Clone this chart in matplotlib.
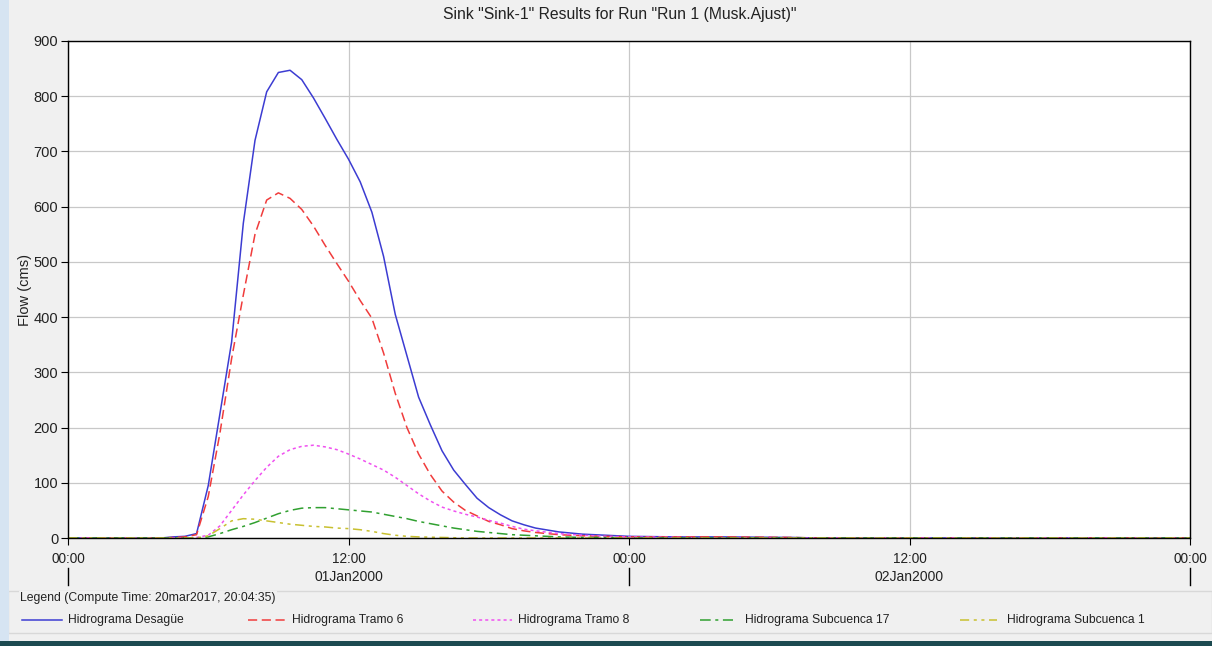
import numpy as np
import matplotlib.pyplot as plt
from matplotlib.lines import Line2D
from matplotlib.patches import Rectangle

# hours since 00:00 01Jan2000
hours = [0, 4.0, 4.5, 5.0, 5.5, 6.0, 6.5, 7.0, 7.5, 8.0, 8.5, 9.0, 9.5, 10.0,
         10.5, 11.0, 11.5, 12.0, 12.5, 13.0, 13.5, 14.0, 14.5, 15.0, 15.5, 16.0,
         16.5, 17.0, 17.5, 18.0, 18.5, 19.0, 19.5, 20.0, 21, 22, 23, 24, 26, 28,
         31, 32, 48]

# flows (cms)
desague = [0, 0, 2, 3, 8, 95, 225, 355, 570, 720, 808, 843, 847, 830,
           797, 760, 722, 686, 645, 590, 510, 405, 330, 255, 205, 158,
           123, 97, 72, 55, 42, 31, 24, 18, 11, 7, 5, 3, 2, 2,
           1, 0, 0]
tramo6 = [0, 0, 1, 2, 6, 75, 190, 325, 440, 550, 612, 625, 615, 595,
          565, 530, 497, 465, 430, 398, 335, 262, 200, 152, 115, 85,
          65, 50, 40, 30, 24, 17, 13, 10, 6, 4, 3, 2, 2, 2,
          1, 0, 0]
tramo8 = [0, 0, 0, 0, 1, 5, 22, 50, 78, 104, 128, 148, 160, 166,
          168, 165, 160, 152, 143, 133, 123, 110, 95, 80, 67, 56,
          49, 43, 38, 32, 27, 21, 16, 13, 8, 5, 3, 2, 1, 0,
          0, 0, 0]
subc17 = [0, 0, 0, 0, 0, 2, 8, 15, 21, 28, 36, 44, 50, 54,
          55, 55, 53, 51, 49, 47, 43, 39, 35, 30, 26, 22,
          18, 15, 12, 10, 8, 6, 5, 4, 2, 1, 1, 0, 0, 0,
          0, 0, 0]
subc1 = [0, 0, 0, 0, 0, 4, 17, 31, 35, 34, 31, 28, 25, 23,
         21, 20, 18, 17, 15, 12, 8, 5, 3, 2, 1.5, 1,
         0.5, 0, 0, 0, 0, 0, 0, 0, 0, 0, 0, 0, 0, 0,
         0, 0, 0]

names = ["Hidrograma Desagüe", "Hidrograma Tramo 6", "Hidrograma Tramo 8",
         "Hidrograma Subcuenca 17", "Hidrograma Subcuenca 1"]
series = [desague, tramo6, tramo8, subc17, subc1]
colors = ["#3c3cd2", "#f03c3c", "#f050f0", "#30a030", "#c8c030"]
styles = ["-", (0, (6, 3)), (0, (2, 2)), (0, (7, 3, 2, 3)), (0, (6, 3, 2, 3, 2, 3))]

xtick_hours = [0, 12, 24, 36, 48]
xtick_labels = ["00:00", "12:00", "00:00", "12:00", "00:00"]
day_labels = [(12, "01Jan2000"), (36, "02Jan2000")]

plt.rcParams['font.family'] = ['Liberation Sans', 'DejaVu Sans']

fig = plt.figure(figsize=(12.12, 6.46), dpi=100, facecolor="#f0f0f0")
ax = fig.add_axes([68 / 1212, 1 - 538 / 646, (1190 - 68) / 1212, (538 - 41) / 646])
ax.set_facecolor("white")

for vals, name, c, ls in zip(series, names, colors, styles):
    ax.plot(hours, vals, color=c, linestyle=ls, lw=1.1, label=name)

ax.set_xlim(0, 48)
ax.set_ylim(0, 900)
ax.set_yticks(range(0, 901, 100))
ax.set_xticks(xtick_hours)
ax.set_xticklabels(xtick_labels)
ax.tick_params(axis="both", length=5, color="black", labelcolor="#222222")
ax.tick_params(axis="y", labelsize=10.5, pad=2)
ax.tick_params(axis="x", labelsize=9.8, pad=5)
ax.grid(True, color="#c8c8c8", lw=0.9)
ax.set_axisbelow(True)
for s in ax.spines.values():
    s.set_color("black")
    s.set_linewidth(1.0)
ax.set_ylabel("Flow (cms)", fontsize=10.5, color="#222222", labelpad=1)

# date labels and day separators below the time ticks
trans = ax.get_xaxis_transform()
for h, lab in day_labels:
    ax.text(h, -0.078, lab, transform=trans, ha="center", va="center",
            fontsize=10, color="#222222", clip_on=False)
for h in [0, 24, 48]:
    ax.add_line(Line2D([h, h], [-0.06, -0.095], transform=trans, color="black",
                       lw=1.0, clip_on=False))

fig.text(620 / 1212, 1 - 14 / 646, 'Sink "Sink-1" Results for Run "Run 1 (Musk.Ajust)"',
         ha="center", va="center", fontsize=11.3, color="#222222")

# legend panel
fig.add_artist(Rectangle((8 / 1212, 1 - 633 / 646), 1204 / 1212, 42 / 646,
                         transform=fig.transFigure, facecolor="#f0f0f0",
                         edgecolor="#d8d8d8", lw=1.0))
fig.text(20 / 1212, 1 - 598 / 646, "Legend (Compute Time: 20mar2017, 20:04:35)",
         ha="left", va="center", fontsize=8.8, color="#222222",
         bbox=dict(facecolor="#f0f0f0", edgecolor="none", pad=1))
line_x = [(22, 62), (248, 287), (473, 512), (700, 733), (960, 997)]
text_x = [68, 292, 518, 745, 1007]
for (x0, x1), tx, name, c, ls in zip(line_x, text_x, names, colors, styles):
    yy = 1 - 620 / 646
    fig.add_artist(Line2D([x0 / 1212, x1 / 1212], [yy, yy], transform=fig.transFigure,
                          color=c, linestyle=ls, lw=1.1))
    fig.text(tx / 1212, yy, name, ha="left", va="center", fontsize=8.7,
             color="#222222")

# window edges
fig.add_artist(Rectangle((0, 0), 9 / 1212, 1, transform=fig.transFigure,
                         facecolor="#d6e4f2", edgecolor="none"))
fig.add_artist(Rectangle((0, 0), 1, 5 / 646, transform=fig.transFigure,
                         facecolor="#1c4a50", edgecolor="none"))

fig.savefig("out.png", dpi=100, facecolor=fig.get_facecolor())
